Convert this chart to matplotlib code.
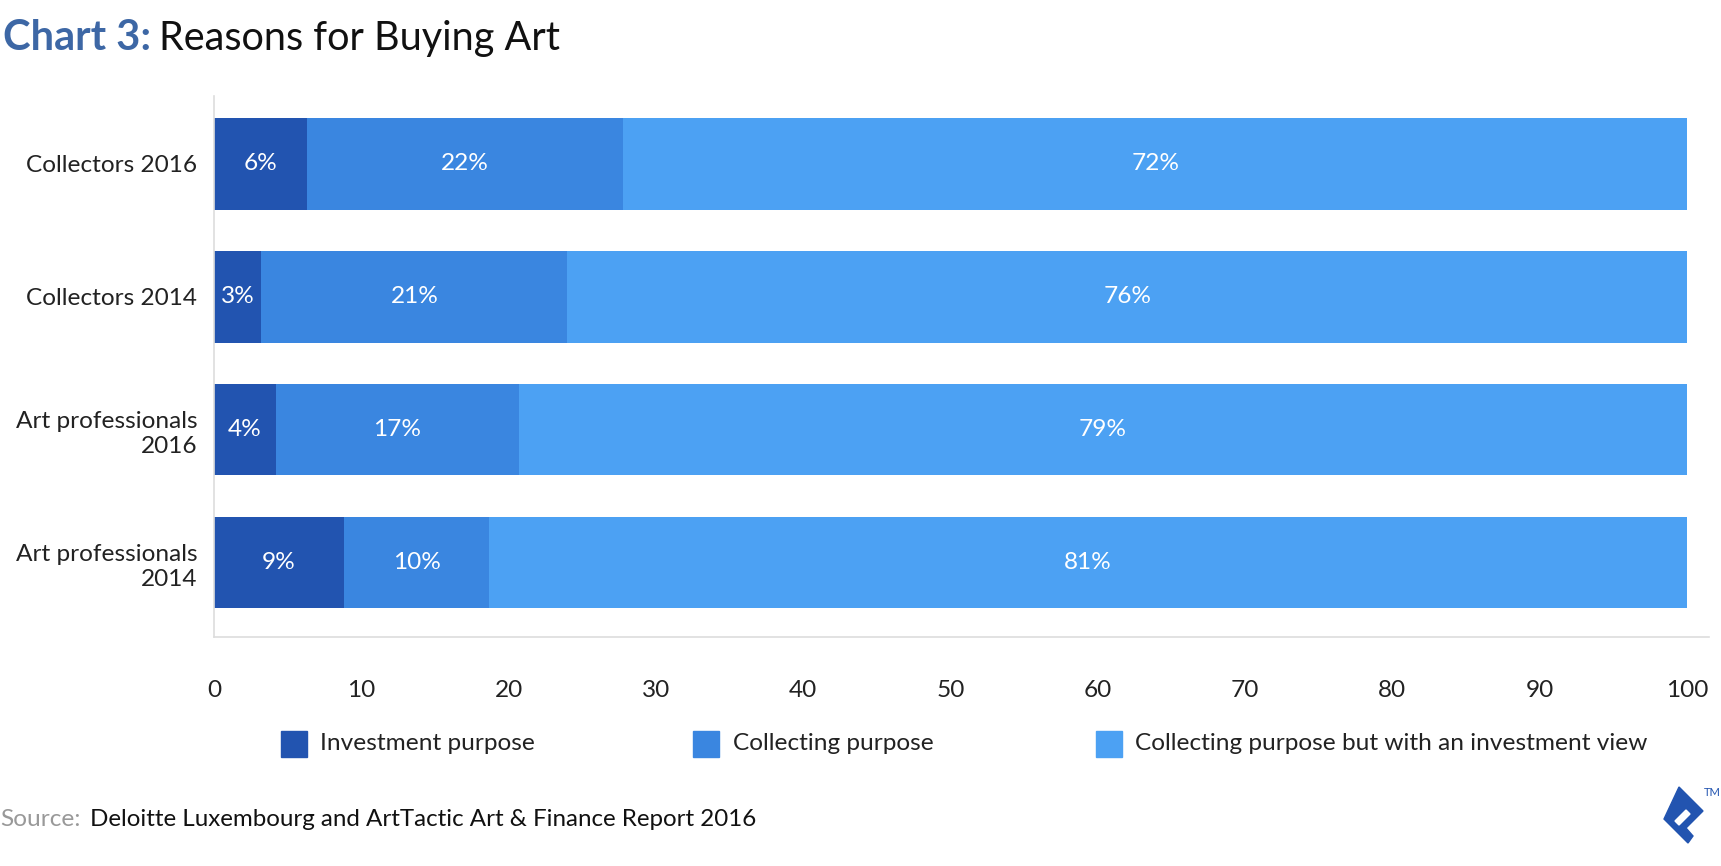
import matplotlib.pyplot as plt
from matplotlib.patches import Rectangle, Polygon

plt.rcParams['font.family'] = ['Lato', 'DejaVu Sans']

# === data ===
groups = ["Collectors 2016", "Collectors 2014", "Art professionals\n2016", "Art professionals\n2014"]
investment = [6.3, 3.2, 4.2, 8.8]
collecting = [21.5, 20.8, 16.5, 9.9]
collecting_inv_view = [72.2, 76.0, 79.3, 81.3]
investment_lbl = ["6%", "3%", "4%", "9%"]
collecting_lbl = ["22%", "21%", "17%", "10%"]
view_lbl = ["72%", "76%", "79%", "81%"]
series_names = ["Investment purpose", "Collecting purpose",
                "Collecting purpose but with an investment view"]
colors = ["#2254B0", "#3A86E0", "#4CA1F3"]
xticks = list(range(0, 101, 10))

W, H = 1721, 866
FS = 17.6
fig = plt.figure(figsize=(W / 100, H / 100), dpi=100)


def fx(px):
    return px / W


def fy(py):
    return 1 - py / H


ax = fig.add_axes([fx(214), fy(637), fx(1709) - fx(214), fy(96) - fy(637)])

y = list(range(len(groups)))
series = [investment, collecting, collecting_inv_view]
labels = [investment_lbl, collecting_lbl, view_lbl]
left = [0.0] * len(groups)
for vals, lbls, col, name in zip(series, labels, colors, series_names):
    bars = ax.barh(y, vals, left=left, height=0.69, color=col, label=name, linewidth=0)
    for b, t in zip(bars, lbls):
        ax.text(b.get_x() + b.get_width() / 2, b.get_y() + b.get_height() / 2, t,
                ha="center", va="center", color="white", fontsize=FS)
    left = [l + v for l, v in zip(left, vals)]

ax.set_xlim(0, 101.5)
ax.set_ylim(3.56, -0.51)
ax.set_xticks(xticks)
ax.set_xticklabels([str(t) for t in xticks], fontsize=FS, color="#222222")
ax.set_yticks(y)
ax.set_yticklabels(groups, fontsize=FS, color="#222222", linespacing=1.25)
ax.tick_params(axis="x", length=0, pad=31)
ax.tick_params(axis="y", length=0, pad=12)
for s in ["top", "right"]:
    ax.spines[s].set_visible(False)
for s in ["left", "bottom"]:
    ax.spines[s].set_color("#dddddd")
    ax.spines[s].set_linewidth(1.2)

# === legend (drawn by hand to match spacing) ===
leg_sq = [281, 693, 1096]
leg_txt = [320, 733, 1135]
for sx, tx, col, name in zip(leg_sq, leg_txt, colors, series_names):
    fig.patches.append(Rectangle((fx(sx), fy(757)), fx(26), 26 / H, color=col,
                                 transform=fig.transFigure, figure=fig))
    fig.text(fx(tx), fy(744), name, fontsize=FS, color="#222222", va="center", ha="left")

# === title ===
fig.text(fx(3), fy(50), "Chart 3:", fontsize=30, fontweight="bold", color="#3D67A5",
         va="baseline", ha="left")
fig.text(fx(159), fy(50), "Reasons for Buying Art", fontsize=28.5, color="#111111",
         va="baseline", ha="left")

# === source ===
fig.text(fx(0), fy(819), "Source:", fontsize=FS, color="#999999", va="center", ha="left")
fig.text(fx(90), fy(819), "Deloitte Luxembourg and ArtTactic Art & Finance Report 2016",
         fontsize=17.4, color="#111111", va="center", ha="left")

# === logo ===
logo = [(1679, 787), (1703, 811), (1686, 828), (1693, 836), (1688, 843), (1664, 819)]
fig.patches.append(Polygon([(fx(a), fy(b)) for a, b in logo], closed=True, color="#2254B0",
                           transform=fig.transFigure, figure=fig))
slot = [(1686, 810), (1690, 814), (1679, 825), (1675, 821)]
fig.patches.append(Polygon([(fx(a), fy(b)) for a, b in slot], closed=True, color="white",
                           transform=fig.transFigure, figure=fig))
fig.text(fx(1704), fy(792), "TM", fontsize=8, color="#2254B0", va="center", ha="left")

fig.savefig("out.png", dpi=100)
